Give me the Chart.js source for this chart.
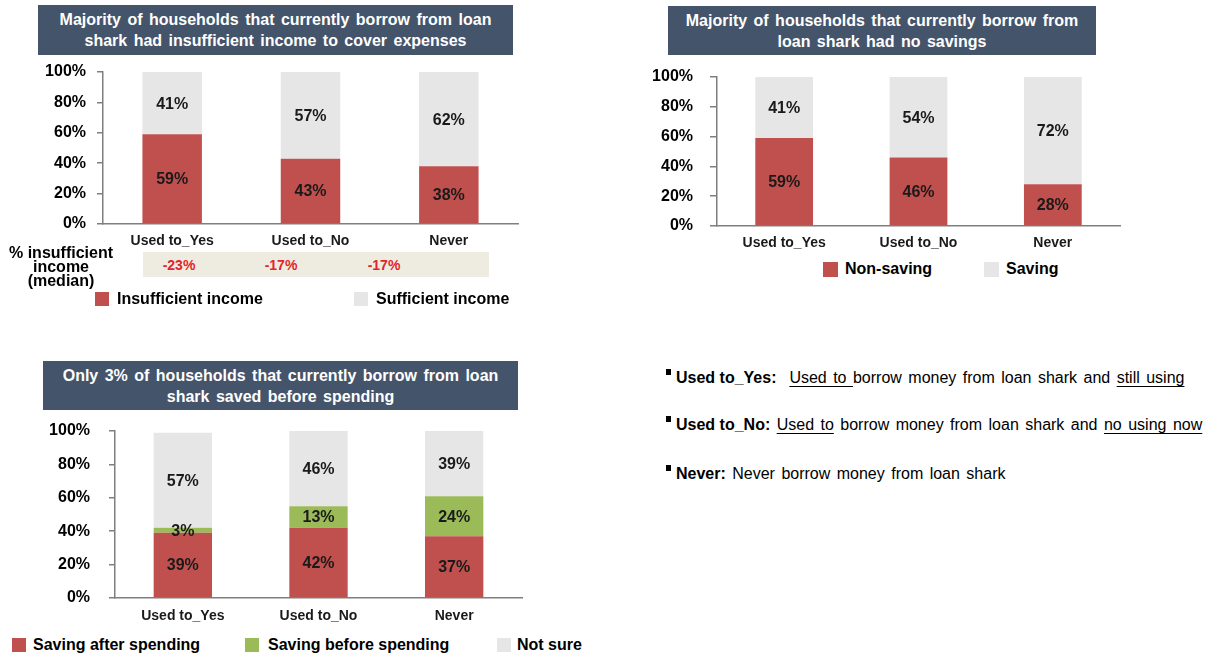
<!DOCTYPE html>
<html>
<head>
<meta charset="utf-8">
<script src="https://cdn.jsdelivr.net/npm/chart.js@4.4.0/dist/chart.umd.min.js"></script>
<style>
    body {
        margin: 0;
        width: 1218px;
        height: 655px;
        position: relative;
        overflow: hidden;
        background: #fff;
        font-family: "Liberation Sans", Arial, sans-serif;
        color: #000;
    }
    .title {
        position: absolute;
        background: #44546A;
        color: #fff;
        font-weight: bold;
        font-size: 16px;
        line-height: 21px;
        text-align: center;
        display: flex;
        align-items: center;
        justify-content: center;
        word-spacing: 2px;
    }
    canvas { position: absolute; }
    .swatch { position: absolute; width: 14px; height: 14px; }
    .legend-text {
        position: absolute;
        font-weight: bold;
        font-size: 16px;
        line-height: 16px;
        white-space: nowrap;
    }
    .median-label {
        position: absolute;
        left: 0; top: 246px; width: 122px;
        font-weight: bold; font-size: 16px; line-height: 14px;
        text-align: center;
    }
    .median-row { position: absolute; left: 143px; top: 252px; width: 346px; height: 25px; background: #EEECE1; }
    .median-val {
        position: absolute; top: 258px; width: 60px; margin-left: -30px;
        text-align: center; color: #E3242B; font-weight: bold; font-size: 14px; line-height: 14px;
    }
    .defs { position: absolute; left: 666px; font-size: 16px; white-space: nowrap; word-spacing: 2px; }
    .defs .dot { display: inline-block; width: 5px; height: 6px; background: #000; vertical-align: 8px; margin-right: 5px; }
    .defs b { word-spacing: 0; }
    .defs u { text-underline-offset: 3px; }
</style>
</head>
<body>

<!-- chart 1 -->
<div class="title" style="left:38px;top:5px;width:475px;height:50px;">Majority of households that currently borrow from loan<br>shark had insufficient income to cover expenses</div>
<canvas id="incomeChart" width="525" height="190" style="left:0;top:62px;"></canvas>
<div class="median-label">% insufficient<br>income<br>(median)</div>
<div class="median-row"></div>
<div id="medianValues"></div>
<div class="swatch" style="left:95px;top:292px;background:#C0504D;"></div>
<div class="legend-text" style="left:117px;top:291px;">Insufficient income</div>
<div class="swatch" style="left:354px;top:292px;background:#E6E6E6;"></div>
<div class="legend-text" style="left:376px;top:291px;">Sufficient income</div>

<!-- chart 2 -->
<div class="title" style="left:668px;top:6px;width:428px;height:49px;">Majority of households that currently borrow from<br>loan shark had no savings</div>
<canvas id="savingChart" width="525" height="200" style="left:600px;top:60px;"></canvas>
<div class="swatch" style="left:823px;top:262px;width:15px;height:15px;background:#C0504D;"></div>
<div class="legend-text" style="left:845px;top:261px;">Non-saving</div>
<div class="swatch" style="left:984px;top:262px;width:15px;height:15px;background:#E6E6E6;"></div>
<div class="legend-text" style="left:1006px;top:261px;">Saving</div>

<!-- chart 3 -->
<div class="title" style="left:43px;top:361px;width:475px;height:49px;">Only 3% of households that currently borrow from loan<br>shark saved before spending</div>
<canvas id="habitChart" width="530" height="205" style="left:0;top:421px;"></canvas>
<div class="swatch" style="left:12px;top:638px;background:#C0504D;"></div>
<div class="legend-text" style="left:33px;top:637px;">Saving after spending</div>
<div class="swatch" style="left:245px;top:638px;background:#9BBB59;"></div>
<div class="legend-text" style="left:268px;top:637px;">Saving before spending</div>
<div class="swatch" style="left:497px;top:638px;background:#E6E6E6;"></div>
<div class="legend-text" style="left:517px;top:637px;">Not sure</div>

<!-- definitions -->
<div class="defs" style="top:369px;"><span class="dot"></span><b>Used to_Yes:</b>&nbsp; <u>Used to </u>borrow money from loan shark and <u>still using</u></div>
<div class="defs" style="top:416px;"><span class="dot"></span><b>Used to_No:</b> <u>Used to</u> borrow money from loan shark and <u>no using now</u></div>
<div class="defs" style="top:465px;"><span class="dot"></span><b>Never:</b> Never borrow money from loan shark</div>

<script>
const groups = ['Used to_Yes', 'Used to_No', 'Never'];
const yTicks = [0, 20, 40, 60, 80, 100];

// chart 1: income vs expenses
const insufficientIncome = [59, 43, 38];
const sufficientIncome = [41, 57, 62];
const medianIncomeGap = [-23, -17, -17];

// chart 2: savings
const nonSaving = [59, 46, 28];
const saving = [41, 54, 72];

// chart 3: saving habit
const savingAfter = [39, 42, 37];
const savingBefore = [3, 13, 24];
const notSure = [57, 46, 39];

const RED = '#C0504D';
const GREY = '#E6E6E6';
const GREEN = '#9BBB59';
const AXIS = '#7F7F7F';
const FONT = '"Liberation Sans", Arial, sans-serif';

// draws the % value in the middle of every bar segment
const barLabels = {
    id: 'barLabels',
    afterDatasetsDraw(chart) {
        const ctx = chart.ctx;
        ctx.save();
        ctx.font = 'bold 16px ' + FONT;
        ctx.fillStyle = '#1A1A1A';
        ctx.textAlign = 'center';
        ctx.textBaseline = 'middle';
        chart.data.datasets.forEach((ds, i) => {
            chart.getDatasetMeta(i).data.forEach((bar, j) => {
                const { x, y, base } = bar.getProps(['x', 'y', 'base'], true);
                const top = Math.max(y, chart.chartArea.top);
                ctx.fillText(ds.data[j] + '%', x, (top + base) / 2 + 1);
            });
        });
        ctx.restore();
    }
};

function stackedChart(id, datasets, layout) {
    return new Chart(document.getElementById(id), {
        type: 'bar',
        data: {
            labels: groups,
            datasets: datasets.map(d => ({
                label: d.label,
                data: d.data,
                backgroundColor: d.color,
                borderWidth: 0,
                categoryPercentage: 1,
                barPercentage: 0.43
            }))
        },
        options: {
            responsive: false,
            animation: false,
            layout: { padding: { top: layout.top, right: layout.right, left: 0, bottom: 0 } },
            plugins: { legend: { display: false }, tooltip: { enabled: false } },
            scales: {
                x: {
                    stacked: true,
                    grid: { display: false, drawTicks: false },
                    border: { display: true, color: AXIS, width: 1.5 },
                    ticks: { padding: layout.xPad, color: '#1A1A1A', font: { family: FONT, size: 14, weight: 'bold' } },
                    afterFit: s => { s.height = layout.xHeight; }
                },
                y: {
                    stacked: true,
                    min: 0,
                    max: 100,
                    afterBuildTicks: s => { s.ticks = yTicks.map(v => ({ value: v })); },
                    grid: { drawOnChartArea: false, drawTicks: true, tickLength: layout.tick, color: AXIS, lineWidth: 1.5 },
                    border: { display: true, color: AXIS, width: 1.5 },
                    ticks: {
                        padding: layout.yPad,
                        color: '#000',
                        font: { family: FONT, size: 16, weight: 'bold' },
                        callback: v => v + '%'
                    },
                    // fixed width, and no extra room reserved above/below for the labels
                    afterFit: s => {
                        s.width = layout.yWidth;
                        s.paddingTop = 0;
                        s.paddingBottom = 0;
                    }
                }
            }
        },
        plugins: [barLabels]
    });
}

stackedChart('incomeChart', [
    { label: 'Insufficient income', data: insufficientIncome, color: RED },
    { label: 'Sufficient income', data: sufficientIncome, color: GREY }
], { top: 10, right: 7, yWidth: 103, tick: 6, yPad: 11, xHeight: 28, xPad: 9 });

stackedChart('savingChart', [
    { label: 'Non-saving', data: nonSaving, color: RED },
    { label: 'Saving', data: saving, color: GREY }
], { top: 17, right: 5, yWidth: 117, tick: 7, yPad: 17, xHeight: 34, xPad: 9 });

stackedChart('habitChart', [
    { label: 'Saving after spending', data: savingAfter, color: RED },
    { label: 'Saving before spending', data: savingBefore, color: GREEN },
    { label: 'Not sure', data: notSure, color: GREY }
], { top: 10, right: 8, yWidth: 115, tick: 6, yPad: 19, xHeight: 28, xPad: 10 });

// median gap row under chart 1
const medianX = [179, 281, 384];
document.getElementById('medianValues').innerHTML = medianIncomeGap
    .map((v, i) => `<div class="median-val" style="left:${medianX[i]}px;">${v}%</div>`)
    .join('');
</script>
</body>
</html>
